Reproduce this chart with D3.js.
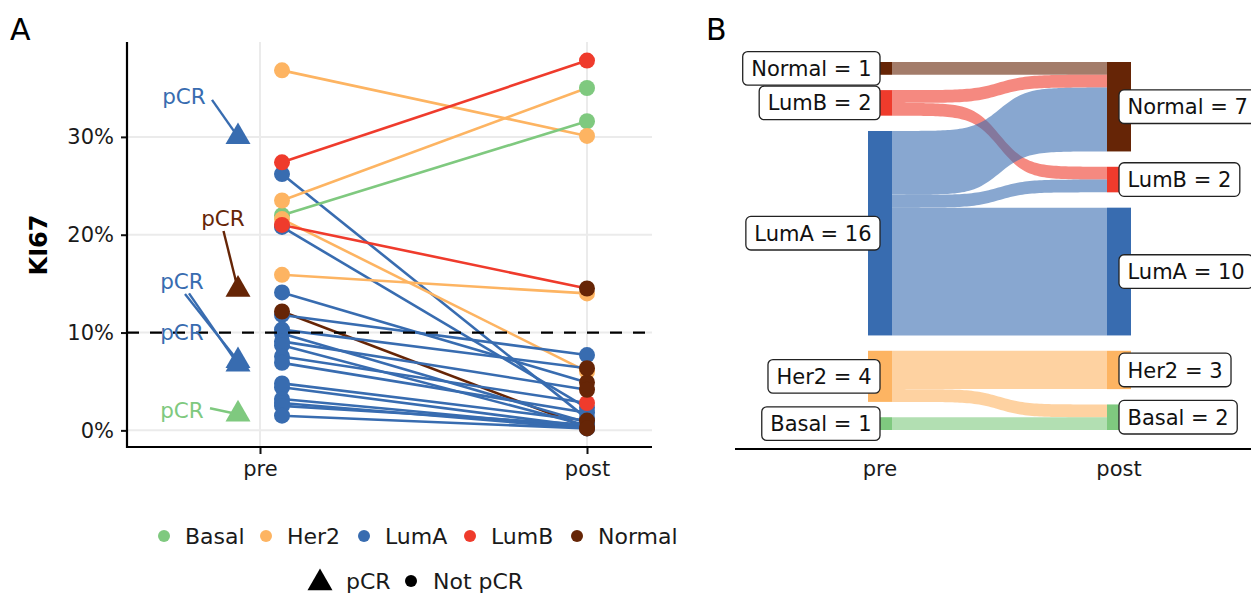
<!DOCTYPE html>
<html>
<head>
<meta charset="utf-8">
<script src="https://cdn.jsdelivr.net/npm/d3@7"></script>
<style>
  body { margin: 0; background: #fff; }
  svg { font-family: "DejaVu Sans", sans-serif; }
</style>
</head>
<body>
<svg id="chart" width="1251" height="596"></svg>
<script>
// subtypes and their colours
const subtypes = ["Basal", "Her2", "LumA", "LumB", "Normal"];
const subtypeColors = ["#7FC97F", "#FDB462", "#386CB0", "#EF3B2C", "#662506"];

// patients without pCR: subtype + KI67 (%) before and after treatment
const preType  = ["Her2", "LumB", "LumA", "Her2", "Basal", "Her2", "LumB", "LumA", "Her2", "LumA", "Normal", "LumA",
                  "LumA", "LumA", "LumA", "LumA", "LumA", "LumA", "LumA", "LumA", "LumA", "LumA", "LumA", "LumA"];
const preKi67  = [36.8, 27.4, 26.2, 23.5, 22.0, 21.6, 21.0, 20.8, 15.9, 14.1, 12.15, 11.8,
                  10.3, 9.9, 9.1, 8.7, 7.55, 6.9, 4.8, 4.4, 3.2, 2.8, 2.5, 1.5];
const postType = ["Her2", "LumB", "LumA", "Basal", "Basal", "Her2", "Normal", "LumA", "Her2", "Normal", "Normal", "LumA",
                  "Normal", "LumA", "Normal", "LumA", "LumB", "LumA", "Normal", "LumA", "LumA", "Normal", "LumA", "LumA"];
const postKi67 = [30.1, 37.8, 1.2, 35.0, 31.6, 6.0, 14.5, 2.3, 14.0, 4.9, 0.3, 7.7,
                  6.35, 0.8, 4.15, 0.5, 2.8, 1.8, 1.0, 0.4, 0.3, 0.2, 0.6, 0.2];

// pCR patients (pre only)
const pcrType = ["LumA", "Normal", "LumA", "LumA", "Basal"];
const pcrKi67 = [30.0, 14.4, 7.1, 6.75, 1.65];

const timepoints = ["pre", "post"];
const yTicks = [0, 10, 20, 30];
const threshold = 10;

// sankey node order, top to bottom
const nodeOrder = ["Normal", "LumB", "LumA", "Her2", "Basal"];

// repel label layout for the pCR labels: [label dx, label dy, segment start dx, segment start dy]
const pcrLabelLayout = [[-54, -40, -26, -37], [-15, -71, -14.5, -58.5], [-56, -79, -53, -67],
                        [-56, -32, -49, -71], [-56, -4, -28, -6]];

const color = d3.scaleOrdinal().domain(subtypes).range(subtypeColors);
const svg = d3.select("#chart");
const triangle = d3.symbol().type(d3.symbolTriangle).size(270);

// ---------------- Panel A ----------------
const marginA = { left: 127, right: 652, top: 42, bottom: 447 };
const xA = d3.scalePoint().domain(timepoints).range([260, 587]);
const yA = d3.scaleLinear().domain([-1.7, 39.7]).range([marginA.bottom, marginA.top]);
const nudge = 22;

const gA = svg.append("g");

// grid
gA.selectAll(".hgrid").data(yTicks).join("line")
    .attr("x1", marginA.left).attr("x2", marginA.right)
    .attr("y1", d => yA(d)).attr("y2", d => yA(d))
    .attr("stroke", "#ebebeb").attr("stroke-width", 2);
gA.selectAll(".vgrid").data(timepoints).join("line")
    .attr("x1", d => xA(d)).attr("x2", d => xA(d))
    .attr("y1", marginA.top).attr("y2", marginA.bottom)
    .attr("stroke", "#ebebeb").attr("stroke-width", 2);

// axes
const yAxis = gA.append("g")
    .attr("transform", "translate(" + marginA.left + ",0)")
    .call(d3.axisLeft(yA).tickValues(yTicks).tickFormat(d => d + "%").tickSize(6).tickPadding(7).tickSizeOuter(0));
yAxis.select(".domain").remove();
const xAxisA = gA.append("g")
    .attr("transform", "translate(0," + marginA.bottom + ")")
    .call(d3.axisBottom(xA).tickSize(7).tickPadding(7));
xAxisA.select(".domain").remove();
[yAxis, xAxisA].forEach(a => {
  a.selectAll("line").attr("stroke", "#111").attr("stroke-width", 2);
  a.selectAll("text").attr("fill", "#1a1a1a").style("font-size", "21px").style("font-family", "DejaVu Sans");
});
gA.append("line").attr("x1", marginA.left).attr("x2", marginA.left)
    .attr("y1", marginA.top).attr("y2", marginA.bottom + 1)
    .attr("stroke", "#000").attr("stroke-width", 2.2);
gA.append("line").attr("x1", marginA.left - 1).attr("x2", marginA.right)
    .attr("y1", marginA.bottom).attr("y2", marginA.bottom)
    .attr("stroke", "#000").attr("stroke-width", 2.2);

gA.append("text")
    .attr("transform", "translate(47,245) rotate(-90)")
    .attr("text-anchor", "middle")
    .style("font-size", "24px").style("font-weight", "bold")
    .text("KI67");

const patients = preType.map((t, i) => ({ preType: t, pre: preKi67[i], postType: postType[i], post: postKi67[i] }));
const byType = (a, b) => subtypes.indexOf(a) - subtypes.indexOf(b);

// connecting lines (coloured by pre subtype)
gA.selectAll(".pline").data(patients).join("line")
    .attr("x1", xA("pre") + nudge).attr("y1", d => yA(d.pre))
    .attr("x2", xA("post")).attr("y2", d => yA(d.post))
    .attr("stroke", d => color(d.preType)).attr("stroke-width", 2.6);

// pre points
gA.selectAll(".prept").data(patients.slice().sort((a, b) => byType(a.preType, b.preType))).join("circle")
    .attr("cx", xA("pre") + nudge).attr("cy", d => yA(d.pre)).attr("r", 8)
    .attr("fill", d => color(d.preType));
// post points
gA.selectAll(".postpt").data(patients.slice().sort((a, b) => byType(a.postType, b.postType))).join("circle")
    .attr("cx", xA("post")).attr("cy", d => yA(d.post)).attr("r", 8)
    .attr("fill", d => color(d.postType));

// pCR triangles + labels
const pcr = pcrType.map((t, i) => ({ type: t, value: pcrKi67[i], lay: pcrLabelLayout[i] }));
const px = xA("pre") - nudge;
gA.selectAll(".pcrseg").data(pcr).join("line")
    .attr("x1", d => px + d.lay[2]).attr("y1", d => yA(d.value) + d.lay[3])
    .attr("x2", px).attr("y2", d => yA(d.value))
    .attr("stroke", d => color(d.type)).attr("stroke-width", 2.4);
gA.selectAll(".pcrpt").data(pcr).join("path")
    .attr("d", triangle)
    .attr("transform", d => "translate(" + px + "," + yA(d.value) + ")")
    .attr("fill", d => color(d.type));

// threshold line
gA.append("line")
    .attr("x1", marginA.left).attr("x2", marginA.right)
    .attr("y1", yA(threshold)).attr("y2", yA(threshold))
    .attr("stroke", "#000").attr("stroke-width", 2.3).attr("stroke-dasharray", "12,11");

gA.selectAll(".pcrlab").data(pcr).join("text")
    .attr("x", d => px + d.lay[0]).attr("y", d => yA(d.value) + d.lay[1])
    .attr("dy", "0.35em").attr("text-anchor", "middle")
    .attr("fill", d => color(d.type))
    .style("font-size", "21.5px")
    .text("pCR");

// legends
const leg1 = svg.append("g").attr("transform", "translate(0,536)");
const legX = [164, 266, 364, 470, 577];
subtypes.forEach((s, i) => {
  leg1.append("circle").attr("cx", legX[i]).attr("cy", 0).attr("r", 6).attr("fill", color(s));
  leg1.append("text").attr("x", legX[i] + 21).attr("y", 0).attr("dy", "0.35em")
      .style("font-size", "22px").attr("fill", "#1a1a1a").text(s);
});
const leg2 = svg.append("g").attr("transform", "translate(0,581)");
leg2.append("path").attr("d", triangle).attr("transform", "translate(320,2)").attr("fill", "#000");
leg2.append("text").attr("x", 346).attr("dy", "0.35em").style("font-size", "22px").attr("fill", "#1a1a1a").text("pCR");
leg2.append("circle").attr("cx", 411).attr("cy", 0).attr("r", 6).attr("fill", "#000");
leg2.append("text").attr("x", 433).attr("dy", "0.35em").style("font-size", "22px").attr("fill", "#1a1a1a").text("Not pCR");

// ---------------- Panel B: sankey ----------------
const xB = d3.scalePoint().domain(timepoints).range([880, 1119]);
const nodeW = 24;
const gapUnits = 1.2;
const total = preType.length + gapUnits * (nodeOrder.length - 1);
const yB = d3.scaleLinear().domain([0, total]).range([62, 430]);

function stackNodes(types) {
  const counts = d3.rollup(types, v => v.length, d => d);
  let off = 0;
  const res = {};
  nodeOrder.forEach(k => {
    const c = counts.get(k) || 0;
    res[k] = { n: c, y0: off, y1: off + c };
    off += c + gapUnits;
  });
  return res;
}
const preNodes = stackNodes(preType);
const postNodes = stackNodes(postType);

// flows ordered by source then target
const flows = [];
const preOff = {}, postOff = {};
nodeOrder.forEach(k => { preOff[k] = preNodes[k].y0; postOff[k] = postNodes[k].y0; });
nodeOrder.forEach(s => {
  nodeOrder.forEach(t => {
    const c = patients.filter(p => p.preType === s && p.postType === t).length;
    if (!c) return;
    flows.push({ source: s, target: t, a0: preOff[s], a1: preOff[s] + c, b0: postOff[t], b1: postOff[t] + c });
    preOff[s] += c; postOff[t] += c;
  });
});

function flowPath(f) {
  const x0 = xB("pre") + nodeW / 2, x1 = xB("post") - nodeW / 2;
  const n = 90, k = 8, top = [], bot = [];
  for (let i = 0; i < n; i++) {
    const u = i / (n - 1);
    const s = 1 / (1 + Math.exp(-(-k + 2 * k * u)));
    const x = x0 + (x1 - x0) * u;
    top.push([x, yB(f.a0 + (f.b0 - f.a0) * s)]);
    bot.push([x, yB(f.a1 + (f.b1 - f.a1) * s)]);
  }
  return d3.line()(top.concat(bot.reverse())) + "Z";
}

const gB = svg.append("g");
gB.selectAll(".flow").data(flows).join("path")
    .attr("d", flowPath)
    .attr("fill", d => color(d.source)).attr("fill-opacity", 0.6);

const nodeData = [];
nodeOrder.forEach(k => {
  if (preNodes[k].n) nodeData.push({ side: "pre", type: k, ...preNodes[k] });
  if (postNodes[k].n) nodeData.push({ side: "post", type: k, ...postNodes[k] });
});
gB.selectAll(".node").data(nodeData).join("rect")
    .attr("x", d => xB(d.side) - nodeW / 2).attr("width", nodeW)
    .attr("y", d => yB(d.y0)).attr("height", d => yB(d.y1) - yB(d.y0))
    .attr("fill", d => color(d.type));

// labels with boxes
const labG = gB.selectAll(".lab").data(nodeData).join("g")
    .attr("transform", d => "translate(" + xB(d.side) + "," + yB((d.y0 + d.y1) / 2) + ")");
labG.each(function (d) {
  const g = d3.select(this);
  const rect = g.append("rect");
  const txt = g.append("text").attr("dy", "0.36em").style("font-size", "21px").attr("fill", "#111")
      .text(d.type + " = " + d.n);
  const w = txt.node().getComputedTextLength() + 17;
  const left = d.side === "pre" ? -w : 0;
  txt.attr("x", left + 8.5);
  rect.attr("x", left).attr("y", -16.8).attr("width", w).attr("height", 33.6)
      .attr("rx", 5).attr("fill", "#fff").attr("stroke", "#222").attr("stroke-width", 1.3);
});

gB.append("line").attr("x1", 735).attr("x2", 1251).attr("y1", 449).attr("y2", 449)
    .attr("stroke", "#000").attr("stroke-width", 2.2);
gB.selectAll(".xlab").data(timepoints).join("text")
    .attr("x", d => xB(d)).attr("y", 476).attr("text-anchor", "middle")
    .style("font-size", "21px").attr("fill", "#1a1a1a").text(d => d);

// panel tags
svg.append("text").attr("x", 10).attr("y", 40).style("font-size", "30px").text("A");
svg.append("text").attr("x", 706).attr("y", 40).style("font-size", "30px").text("B");
</script>
</body>
</html>
